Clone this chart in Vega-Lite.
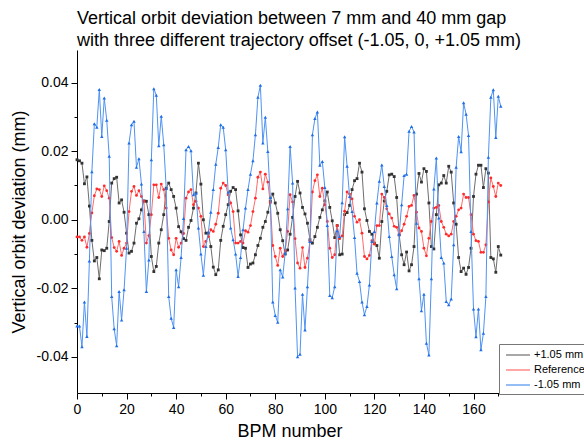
{
"$schema": "https://vega.github.io/schema/vega-lite/v6.json",
"width": 425, "height": 343,
"autosize": {"type": "none"},
"padding": {"left": 77, "top": 50, "right": 82, "bottom": 50},
"background": "white",
"title": {"text": ["Vertical orbit deviation between 7 mm and 40 mm gap", "with three different trajectory offset (-1.05, 0, +1.05 mm)"], "anchor": "start", "frame": "group", "font": "Liberation Sans", "fontSize": 18, "fontWeight": "normal", "lineHeight": 22, "offset": 0, "color": "black"},
"config": {"view": {"stroke": null}, "font": "Liberation Sans",
 "axis": {"grid": false, "domainColor": "black", "domainWidth": 1, "tickColor": "black", "tickWidth": 1, "labelColor": "black", "titleColor": "black", "labelFont": "Liberation Sans", "titleFont": "Liberation Sans", "labelFontSize": 14, "titleFontSize": 18, "titleFontWeight": "normal", "labelOverlap": false, "labelFlush": false},
 "legend": {"title": null, "orient": "none", "legendX": 422, "legendY": 294, "symbolType": "M-2,0L2,0", "symbolSize": 144, "symbolOffset": 8, "symbolStrokeWidth": 1.2, "labelFontSize": 11, "labelFont": "Liberation Sans", "labelColor": "black", "padding": 4, "strokeColor": "#777777", "fillColor": "white", "rowPadding": 3, "labelOffset": 9}},
"datasets": {
"pos": [
{"x":0,"y":0.0175,"s":"+1.05 mm"},{"x":1,"y":0.0172,"s":"+1.05 mm"},{"x":2,"y":0.0165,"s":"+1.05 mm"},{"x":3,"y":0.0105,"s":"+1.05 mm"},{"x":4,"y":0.0125,"s":"+1.05 mm"},{"x":5,"y":0.004,"s":"+1.05 mm"},{"x":6,"y":-0.006,"s":"+1.05 mm"},{"x":7,"y":-0.012,"s":"+1.05 mm"},{"x":8,"y":-0.011,"s":"+1.05 mm"},{"x":9,"y":-0.0172,"s":"+1.05 mm"},
{"x":10,"y":-0.0088,"s":"+1.05 mm"},{"x":11,"y":-0.009,"s":"+1.05 mm"},{"x":12,"y":-0.0083,"s":"+1.05 mm"},{"x":13,"y":-0.0005,"s":"+1.05 mm"},{"x":14,"y":0.0107,"s":"+1.05 mm"},{"x":15,"y":0.012,"s":"+1.05 mm"},{"x":16,"y":0.0124,"s":"+1.05 mm"},{"x":17,"y":0.0049,"s":"+1.05 mm"},{"x":18,"y":0.0058,"s":"+1.05 mm"},{"x":19,"y":0.0022,"s":"+1.05 mm"},
{"x":20,"y":-0.0039,"s":"+1.05 mm"},{"x":21,"y":-0.0097,"s":"+1.05 mm"},{"x":22,"y":-0.0092,"s":"+1.05 mm"},{"x":23,"y":-0.0068,"s":"+1.05 mm"},{"x":24,"y":-0.001,"s":"+1.05 mm"},{"x":25,"y":0.0003,"s":"+1.05 mm"},{"x":26,"y":0.0029,"s":"+1.05 mm"},{"x":27,"y":0.0055,"s":"+1.05 mm"},{"x":28,"y":0.0054,"s":"+1.05 mm"},{"x":29,"y":0.0015,"s":"+1.05 mm"},
{"x":30,"y":-0.0107,"s":"+1.05 mm"},{"x":31,"y":-0.0151,"s":"+1.05 mm"},{"x":32,"y":-0.0136,"s":"+1.05 mm"},{"x":33,"y":-0.0068,"s":"+1.05 mm"},{"x":34,"y":-0.0029,"s":"+1.05 mm"},{"x":35,"y":0.0015,"s":"+1.05 mm"},{"x":36,"y":0.0092,"s":"+1.05 mm"},{"x":37,"y":0.0107,"s":"+1.05 mm"},{"x":38,"y":0.0088,"s":"+1.05 mm"},{"x":39,"y":0.0068,"s":"+1.05 mm"},
{"x":40,"y":0.0034,"s":"+1.05 mm"},{"x":41,"y":-0.002,"s":"+1.05 mm"},{"x":42,"y":-0.0035,"s":"+1.05 mm"},{"x":43,"y":-0.0055,"s":"+1.05 mm"},{"x":44,"y":-0.006,"s":"+1.05 mm"},{"x":45,"y":-0.0022,"s":"+1.05 mm"},{"x":46,"y":-0.0002,"s":"+1.05 mm"},{"x":47,"y":0.0034,"s":"+1.05 mm"},{"x":48,"y":0.0078,"s":"+1.05 mm"},{"x":49,"y":0.0165,"s":"+1.05 mm"},
{"x":50,"y":0.0104,"s":"+1.05 mm"},{"x":51,"y":0.0,"s":"+1.05 mm"},{"x":52,"y":-0.0039,"s":"+1.05 mm"},{"x":53,"y":-0.0039,"s":"+1.05 mm"},{"x":54,"y":-0.0078,"s":"+1.05 mm"},{"x":55,"y":-0.0138,"s":"+1.05 mm"},{"x":56,"y":-0.016,"s":"+1.05 mm"},{"x":57,"y":-0.0146,"s":"+1.05 mm"},{"x":58,"y":-0.006,"s":"+1.05 mm"},{"x":59,"y":-0.0019,"s":"+1.05 mm"},
{"x":60,"y":0.0015,"s":"+1.05 mm"},{"x":61,"y":0.0044,"s":"+1.05 mm"},{"x":62,"y":0.0083,"s":"+1.05 mm"},{"x":63,"y":0.0094,"s":"+1.05 mm"},{"x":64,"y":0.0088,"s":"+1.05 mm"},{"x":65,"y":0.0026,"s":"+1.05 mm"},{"x":66,"y":-0.0044,"s":"+1.05 mm"},{"x":67,"y":-0.0081,"s":"+1.05 mm"},{"x":68,"y":-0.0083,"s":"+1.05 mm"},{"x":69,"y":-0.0139,"s":"+1.05 mm"},
{"x":70,"y":-0.0129,"s":"+1.05 mm"},{"x":71,"y":-0.0126,"s":"+1.05 mm"},{"x":72,"y":-0.0102,"s":"+1.05 mm"},{"x":73,"y":-0.0075,"s":"+1.05 mm"},{"x":74,"y":-0.0054,"s":"+1.05 mm"},{"x":75,"y":-0.0022,"s":"+1.05 mm"},{"x":76,"y":-0.0005,"s":"+1.05 mm"},{"x":77,"y":0.0022,"s":"+1.05 mm"},{"x":78,"y":0.0054,"s":"+1.05 mm"},{"x":79,"y":0.0075,"s":"+1.05 mm"},
{"x":80,"y":0.0049,"s":"+1.05 mm"},{"x":81,"y":0.0019,"s":"+1.05 mm"},{"x":82,"y":-0.0029,"s":"+1.05 mm"},{"x":83,"y":-0.0061,"s":"+1.05 mm"},{"x":84,"y":-0.01,"s":"+1.05 mm"},{"x":85,"y":-0.0088,"s":"+1.05 mm"},{"x":86,"y":-0.0042,"s":"+1.05 mm"},{"x":87,"y":0.0007,"s":"+1.05 mm"},{"x":88,"y":0.0068,"s":"+1.05 mm"},{"x":89,"y":0.0112,"s":"+1.05 mm"},
{"x":90,"y":0.0078,"s":"+1.05 mm"},{"x":91,"y":0.0036,"s":"+1.05 mm"},{"x":92,"y":0.0017,"s":"+1.05 mm"},{"x":93,"y":-0.001,"s":"+1.05 mm"},{"x":94,"y":-0.0058,"s":"+1.05 mm"},{"x":95,"y":-0.0068,"s":"+1.05 mm"},{"x":96,"y":-0.0049,"s":"+1.05 mm"},{"x":97,"y":-0.0022,"s":"+1.05 mm"},{"x":98,"y":0.0007,"s":"+1.05 mm"},{"x":99,"y":0.0029,"s":"+1.05 mm"},
{"x":100,"y":0.0055,"s":"+1.05 mm"},{"x":101,"y":0.0081,"s":"+1.05 mm"},{"x":102,"y":0.0036,"s":"+1.05 mm"},{"x":103,"y":-0.0003,"s":"+1.05 mm"},{"x":104,"y":-0.0052,"s":"+1.05 mm"},{"x":105,"y":-0.0017,"s":"+1.05 mm"},{"x":106,"y":-0.0102,"s":"+1.05 mm"},{"x":107,"y":-0.01,"s":"+1.05 mm"},{"x":108,"y":0.0015,"s":"+1.05 mm"},{"x":109,"y":0.0021,"s":"+1.05 mm"},
{"x":110,"y":0.0042,"s":"+1.05 mm"},{"x":111,"y":0.0088,"s":"+1.05 mm"},{"x":112,"y":0.0114,"s":"+1.05 mm"},{"x":113,"y":0.012,"s":"+1.05 mm"},{"x":114,"y":0.0165,"s":"+1.05 mm"},{"x":115,"y":0.0139,"s":"+1.05 mm"},{"x":116,"y":0.0032,"s":"+1.05 mm"},{"x":117,"y":-0.0002,"s":"+1.05 mm"},{"x":118,"y":-0.0034,"s":"+1.05 mm"},{"x":119,"y":-0.0042,"s":"+1.05 mm"},
{"x":120,"y":-0.0068,"s":"+1.05 mm"},{"x":121,"y":-0.0075,"s":"+1.05 mm"},{"x":122,"y":-0.0112,"s":"+1.05 mm"},{"x":123,"y":-0.0005,"s":"+1.05 mm"},{"x":124,"y":0.0055,"s":"+1.05 mm"},{"x":125,"y":0.0083,"s":"+1.05 mm"},{"x":126,"y":0.0131,"s":"+1.05 mm"},{"x":127,"y":0.0133,"s":"+1.05 mm"},{"x":128,"y":0.0126,"s":"+1.05 mm"},{"x":129,"y":0.0065,"s":"+1.05 mm"},
{"x":130,"y":-0.0044,"s":"+1.05 mm"},{"x":131,"y":-0.0102,"s":"+1.05 mm"},{"x":132,"y":-0.0131,"s":"+1.05 mm"},{"x":133,"y":-0.0094,"s":"+1.05 mm"},{"x":134,"y":-0.0149,"s":"+1.05 mm"},{"x":135,"y":-0.0131,"s":"+1.05 mm"},{"x":136,"y":-0.0078,"s":"+1.05 mm"},{"x":137,"y":0.0075,"s":"+1.05 mm"},{"x":138,"y":0.0135,"s":"+1.05 mm"},{"x":139,"y":0.011,"s":"+1.05 mm"},
{"x":140,"y":0.0149,"s":"+1.05 mm"},{"x":141,"y":0.0141,"s":"+1.05 mm"},{"x":142,"y":0.0049,"s":"+1.05 mm"},{"x":143,"y":-0.0078,"s":"+1.05 mm"},{"x":144,"y":-0.0085,"s":"+1.05 mm"},{"x":145,"y":0.0015,"s":"+1.05 mm"},{"x":146,"y":0.0102,"s":"+1.05 mm"},{"x":147,"y":0.0107,"s":"+1.05 mm"},{"x":148,"y":0.0129,"s":"+1.05 mm"},{"x":149,"y":0.0107,"s":"+1.05 mm"},
{"x":150,"y":0.0156,"s":"+1.05 mm"},{"x":151,"y":0.0139,"s":"+1.05 mm"},{"x":152,"y":0.0049,"s":"+1.05 mm"},{"x":153,"y":-0.0013,"s":"+1.05 mm"},{"x":154,"y":-0.011,"s":"+1.05 mm"},{"x":155,"y":-0.0151,"s":"+1.05 mm"},{"x":156,"y":-0.0141,"s":"+1.05 mm"},{"x":157,"y":-0.0159,"s":"+1.05 mm"},{"x":158,"y":-0.0139,"s":"+1.05 mm"},{"x":159,"y":-0.0083,"s":"+1.05 mm"},
{"x":160,"y":0.0068,"s":"+1.05 mm"},{"x":161,"y":0.0133,"s":"+1.05 mm"},{"x":162,"y":0.0159,"s":"+1.05 mm"},{"x":163,"y":0.0159,"s":"+1.05 mm"},{"x":164,"y":0.0094,"s":"+1.05 mm"},{"x":165,"y":0.0149,"s":"+1.05 mm"},{"x":166,"y":0.0136,"s":"+1.05 mm"},{"x":167,"y":-0.011,"s":"+1.05 mm"},{"x":168,"y":-0.0114,"s":"+1.05 mm"},{"x":169,"y":-0.0153,"s":"+1.05 mm"},
{"x":170,"y":-0.0078,"s":"+1.05 mm"},{"x":171,"y":-0.0103,"s":"+1.05 mm"}
],
"ref": [
{"x":0,"y":-0.005,"s":"Reference"},{"x":1,"y":-0.005,"s":"Reference"},{"x":2,"y":-0.006,"s":"Reference"},{"x":3,"y":-0.005,"s":"Reference"},{"x":4,"y":-0.008,"s":"Reference"},{"x":5,"y":-0.004,"s":"Reference"},{"x":6,"y":0.002,"s":"Reference"},{"x":7,"y":0.007,"s":"Reference"},{"x":8,"y":0.009,"s":"Reference"},{"x":9,"y":0.0088,"s":"Reference"},
{"x":10,"y":0.0068,"s":"Reference"},{"x":11,"y":0.0099,"s":"Reference"},{"x":12,"y":0.0085,"s":"Reference"},{"x":13,"y":0.0063,"s":"Reference"},{"x":14,"y":-0.0052,"s":"Reference"},{"x":15,"y":-0.0081,"s":"Reference"},{"x":16,"y":-0.0092,"s":"Reference"},{"x":17,"y":-0.0063,"s":"Reference"},{"x":18,"y":-0.0104,"s":"Reference"},{"x":19,"y":-0.0083,"s":"Reference"},
{"x":20,"y":-0.0068,"s":"Reference"},{"x":21,"y":0.0024,"s":"Reference"},{"x":22,"y":0.0083,"s":"Reference"},{"x":23,"y":0.0097,"s":"Reference"},{"x":24,"y":0.0071,"s":"Reference"},{"x":25,"y":0.0085,"s":"Reference"},{"x":26,"y":0.0068,"s":"Reference"},{"x":27,"y":0.0054,"s":"Reference"},{"x":28,"y":-0.0068,"s":"Reference"},{"x":29,"y":-0.0046,"s":"Reference"},
{"x":30,"y":0.0015,"s":"Reference"},{"x":31,"y":0.0102,"s":"Reference"},{"x":32,"y":0.0102,"s":"Reference"},{"x":33,"y":0.0065,"s":"Reference"},{"x":34,"y":0.0104,"s":"Reference"},{"x":35,"y":0.0088,"s":"Reference"},{"x":36,"y":0.0034,"s":"Reference"},{"x":37,"y":-0.0054,"s":"Reference"},{"x":38,"y":-0.0088,"s":"Reference"},{"x":39,"y":-0.0102,"s":"Reference"},
{"x":40,"y":-0.0054,"s":"Reference"},{"x":41,"y":-0.008,"s":"Reference"},{"x":42,"y":-0.0068,"s":"Reference"},{"x":43,"y":-0.004,"s":"Reference"},{"x":44,"y":0.0063,"s":"Reference"},{"x":45,"y":0.0081,"s":"Reference"},{"x":46,"y":0.0088,"s":"Reference"},{"x":47,"y":0.0044,"s":"Reference"},{"x":48,"y":0.0054,"s":"Reference"},{"x":49,"y":0.0034,"s":"Reference"},
{"x":50,"y":0.001,"s":"Reference"},{"x":51,"y":-0.0078,"s":"Reference"},{"x":52,"y":-0.0063,"s":"Reference"},{"x":53,"y":-0.0049,"s":"Reference"},{"x":54,"y":-0.0029,"s":"Reference"},{"x":55,"y":-0.0034,"s":"Reference"},{"x":56,"y":-0.0013,"s":"Reference"},{"x":57,"y":0.0019,"s":"Reference"},{"x":58,"y":0.0092,"s":"Reference"},{"x":59,"y":0.0107,"s":"Reference"},
{"x":60,"y":0.01,"s":"Reference"},{"x":61,"y":0.0073,"s":"Reference"},{"x":62,"y":0.0049,"s":"Reference"},{"x":63,"y":0.0024,"s":"Reference"},{"x":64,"y":-0.0068,"s":"Reference"},{"x":65,"y":-0.0068,"s":"Reference"},{"x":66,"y":-0.0063,"s":"Reference"},{"x":67,"y":-0.0068,"s":"Reference"},{"x":68,"y":-0.0032,"s":"Reference"},{"x":69,"y":-0.0036,"s":"Reference"},
{"x":70,"y":-0.0017,"s":"Reference"},{"x":71,"y":0.0024,"s":"Reference"},{"x":72,"y":0.0063,"s":"Reference"},{"x":73,"y":0.0124,"s":"Reference"},{"x":74,"y":0.0139,"s":"Reference"},{"x":75,"y":0.009,"s":"Reference"},{"x":76,"y":0.0133,"s":"Reference"},{"x":77,"y":0.011,"s":"Reference"},{"x":78,"y":0.0049,"s":"Reference"},{"x":79,"y":-0.0075,"s":"Reference"},
{"x":80,"y":-0.0107,"s":"Reference"},{"x":81,"y":-0.0133,"s":"Reference"},{"x":82,"y":-0.0083,"s":"Reference"},{"x":83,"y":-0.0107,"s":"Reference"},{"x":84,"y":-0.009,"s":"Reference"},{"x":85,"y":-0.0034,"s":"Reference"},{"x":86,"y":0.0073,"s":"Reference"},{"x":87,"y":0.0052,"s":"Reference"},{"x":88,"y":-0.0055,"s":"Reference"},{"x":89,"y":-0.0126,"s":"Reference"},
{"x":90,"y":-0.0141,"s":"Reference"},{"x":91,"y":-0.0081,"s":"Reference"},{"x":92,"y":-0.0139,"s":"Reference"},{"x":93,"y":-0.0112,"s":"Reference"},{"x":94,"y":-0.0063,"s":"Reference"},{"x":95,"y":0.0081,"s":"Reference"},{"x":96,"y":0.0114,"s":"Reference"},{"x":97,"y":0.0131,"s":"Reference"},{"x":98,"y":0.0068,"s":"Reference"},{"x":99,"y":0.0092,"s":"Reference"},
{"x":100,"y":0.0044,"s":"Reference"},{"x":101,"y":-0.0005,"s":"Reference"},{"x":102,"y":-0.0083,"s":"Reference"},{"x":103,"y":-0.011,"s":"Reference"},{"x":104,"y":-0.0102,"s":"Reference"},{"x":105,"y":-0.0017,"s":"Reference"},{"x":106,"y":-0.0055,"s":"Reference"},{"x":107,"y":-0.0047,"s":"Reference"},{"x":108,"y":0.0025,"s":"Reference"},{"x":109,"y":0.0081,"s":"Reference"},
{"x":110,"y":0.0075,"s":"Reference"},{"x":111,"y":0.0061,"s":"Reference"},{"x":112,"y":0.001,"s":"Reference"},{"x":113,"y":-0.0007,"s":"Reference"},{"x":114,"y":0.0,"s":"Reference"},{"x":115,"y":-0.0039,"s":"Reference"},{"x":116,"y":-0.0107,"s":"Reference"},{"x":117,"y":-0.0114,"s":"Reference"},{"x":118,"y":-0.0104,"s":"Reference"},{"x":119,"y":-0.0061,"s":"Reference"},
{"x":120,"y":-0.0071,"s":"Reference"},{"x":121,"y":-0.0017,"s":"Reference"},{"x":122,"y":-0.0017,"s":"Reference"},{"x":123,"y":0.0075,"s":"Reference"},{"x":124,"y":0.0065,"s":"Reference"},{"x":125,"y":0.0032,"s":"Reference"},{"x":126,"y":0.0017,"s":"Reference"},{"x":127,"y":0.0005,"s":"Reference"},{"x":128,"y":-0.0019,"s":"Reference"},{"x":129,"y":-0.0022,"s":"Reference"},
{"x":130,"y":-0.0044,"s":"Reference"},{"x":131,"y":-0.0032,"s":"Reference"},{"x":132,"y":-0.0013,"s":"Reference"},{"x":133,"y":0.001,"s":"Reference"},{"x":134,"y":0.0039,"s":"Reference"},{"x":135,"y":0.0042,"s":"Reference"},{"x":136,"y":0.0071,"s":"Reference"},{"x":137,"y":0.0022,"s":"Reference"},{"x":138,"y":-0.0024,"s":"Reference"},{"x":139,"y":-0.0034,"s":"Reference"},
{"x":140,"y":-0.0083,"s":"Reference"},{"x":141,"y":-0.0105,"s":"Reference"},{"x":142,"y":-0.0054,"s":"Reference"},{"x":143,"y":-0.0005,"s":"Reference"},{"x":144,"y":0.0034,"s":"Reference"},{"x":145,"y":0.0036,"s":"Reference"},{"x":146,"y":0.0042,"s":"Reference"},{"x":147,"y":-0.0005,"s":"Reference"},{"x":148,"y":-0.0022,"s":"Reference"},{"x":149,"y":-0.0042,"s":"Reference"},
{"x":150,"y":-0.0047,"s":"Reference"},{"x":151,"y":-0.0042,"s":"Reference"},{"x":152,"y":-0.0005,"s":"Reference"},{"x":153,"y":0.001,"s":"Reference"},{"x":154,"y":0.0029,"s":"Reference"},{"x":155,"y":0.0034,"s":"Reference"},{"x":156,"y":0.0075,"s":"Reference"},{"x":157,"y":0.0065,"s":"Reference"},{"x":158,"y":0.0065,"s":"Reference"},{"x":159,"y":0.0015,"s":"Reference"},
{"x":160,"y":-0.0042,"s":"Reference"},{"x":161,"y":-0.0061,"s":"Reference"},{"x":162,"y":-0.0063,"s":"Reference"},{"x":163,"y":-0.0095,"s":"Reference"},{"x":164,"y":-0.0095,"s":"Reference"},{"x":165,"y":-0.0073,"s":"Reference"},{"x":166,"y":0.0052,"s":"Reference"},{"x":167,"y":0.0122,"s":"Reference"},{"x":168,"y":0.0097,"s":"Reference"},{"x":169,"y":0.0068,"s":"Reference"},
{"x":170,"y":0.0107,"s":"Reference"},{"x":171,"y":0.01,"s":"Reference"}
],
"neg": [
{"x":0,"y":-0.031,"s":"-1.05 mm"},{"x":1,"y":-0.031,"s":"-1.05 mm"},{"x":2,"y":-0.037,"s":"-1.05 mm"},{"x":3,"y":-0.024,"s":"-1.05 mm"},{"x":4,"y":-0.034,"s":"-1.05 mm"},{"x":5,"y":-0.012,"s":"-1.05 mm"},{"x":6,"y":0.014,"s":"-1.05 mm"},{"x":7,"y":0.028,"s":"-1.05 mm"},{"x":8,"y":0.027,"s":"-1.05 mm"},{"x":9,"y":0.038,"s":"-1.05 mm"},
{"x":10,"y":0.0243,"s":"-1.05 mm"},{"x":11,"y":0.0355,"s":"-1.05 mm"},{"x":12,"y":0.029,"s":"-1.05 mm"},{"x":13,"y":0.0185,"s":"-1.05 mm"},{"x":14,"y":-0.0224,"s":"-1.05 mm"},{"x":15,"y":-0.0318,"s":"-1.05 mm"},{"x":16,"y":-0.0367,"s":"-1.05 mm"},{"x":17,"y":-0.0209,"s":"-1.05 mm"},{"x":18,"y":-0.0292,"s":"-1.05 mm"},{"x":19,"y":-0.0204,"s":"-1.05 mm"},
{"x":20,"y":-0.0083,"s":"-1.05 mm"},{"x":21,"y":0.0224,"s":"-1.05 mm"},{"x":22,"y":0.0277,"s":"-1.05 mm"},{"x":23,"y":0.0287,"s":"-1.05 mm"},{"x":24,"y":0.0153,"s":"-1.05 mm"},{"x":25,"y":0.0178,"s":"-1.05 mm"},{"x":26,"y":0.0104,"s":"-1.05 mm"},{"x":27,"y":-0.0034,"s":"-1.05 mm"},{"x":28,"y":-0.0209,"s":"-1.05 mm"},{"x":29,"y":-0.0117,"s":"-1.05 mm"},
{"x":30,"y":0.0175,"s":"-1.05 mm"},{"x":31,"y":0.0382,"s":"-1.05 mm"},{"x":32,"y":0.0363,"s":"-1.05 mm"},{"x":33,"y":0.0216,"s":"-1.05 mm"},{"x":34,"y":0.0302,"s":"-1.05 mm"},{"x":35,"y":0.0219,"s":"-1.05 mm"},{"x":36,"y":0.0092,"s":"-1.05 mm"},{"x":37,"y":-0.0224,"s":"-1.05 mm"},{"x":38,"y":-0.0287,"s":"-1.05 mm"},{"x":39,"y":-0.0314,"s":"-1.05 mm"},
{"x":40,"y":-0.0146,"s":"-1.05 mm"},{"x":41,"y":-0.0195,"s":"-1.05 mm"},{"x":42,"y":-0.011,"s":"-1.05 mm"},{"x":43,"y":0.0004,"s":"-1.05 mm"},{"x":44,"y":0.0204,"s":"-1.05 mm"},{"x":45,"y":0.0214,"s":"-1.05 mm"},{"x":46,"y":0.0201,"s":"-1.05 mm"},{"x":47,"y":0.0073,"s":"-1.05 mm"},{"x":48,"y":0.0078,"s":"-1.05 mm"},{"x":49,"y":-0.0024,"s":"-1.05 mm"},
{"x":50,"y":-0.01,"s":"-1.05 mm"},{"x":51,"y":-0.0162,"s":"-1.05 mm"},{"x":52,"y":-0.0078,"s":"-1.05 mm"},{"x":53,"y":-0.0036,"s":"-1.05 mm"},{"x":54,"y":0.0022,"s":"-1.05 mm"},{"x":55,"y":0.0088,"s":"-1.05 mm"},{"x":56,"y":0.0162,"s":"-1.05 mm"},{"x":57,"y":0.0211,"s":"-1.05 mm"},{"x":58,"y":0.0277,"s":"-1.05 mm"},{"x":59,"y":0.027,"s":"-1.05 mm"},
{"x":60,"y":0.0204,"s":"-1.05 mm"},{"x":61,"y":0.0081,"s":"-1.05 mm"},{"x":62,"y":-0.0024,"s":"-1.05 mm"},{"x":63,"y":-0.0058,"s":"-1.05 mm"},{"x":64,"y":-0.01,"s":"-1.05 mm"},{"x":65,"y":-0.0165,"s":"-1.05 mm"},{"x":66,"y":-0.011,"s":"-1.05 mm"},{"x":67,"y":-0.0029,"s":"-1.05 mm"},{"x":68,"y":0.0034,"s":"-1.05 mm"},{"x":69,"y":0.0088,"s":"-1.05 mm"},
{"x":70,"y":0.0133,"s":"-1.05 mm"},{"x":71,"y":0.0172,"s":"-1.05 mm"},{"x":72,"y":0.0248,"s":"-1.05 mm"},{"x":73,"y":0.0357,"s":"-1.05 mm"},{"x":74,"y":0.0392,"s":"-1.05 mm"},{"x":75,"y":0.0224,"s":"-1.05 mm"},{"x":76,"y":0.0299,"s":"-1.05 mm"},{"x":77,"y":0.0199,"s":"-1.05 mm"},{"x":78,"y":0.0065,"s":"-1.05 mm"},{"x":79,"y":-0.024,"s":"-1.05 mm"},
{"x":80,"y":-0.0279,"s":"-1.05 mm"},{"x":81,"y":-0.0299,"s":"-1.05 mm"},{"x":82,"y":-0.0146,"s":"-1.05 mm"},{"x":83,"y":-0.0167,"s":"-1.05 mm"},{"x":84,"y":-0.0097,"s":"-1.05 mm"},{"x":85,"y":0.0032,"s":"-1.05 mm"},{"x":86,"y":0.0214,"s":"-1.05 mm"},{"x":87,"y":0.0107,"s":"-1.05 mm"},{"x":88,"y":-0.0199,"s":"-1.05 mm"},{"x":89,"y":-0.0399,"s":"-1.05 mm"},
{"x":90,"y":-0.0392,"s":"-1.05 mm"},{"x":91,"y":-0.0217,"s":"-1.05 mm"},{"x":92,"y":-0.0321,"s":"-1.05 mm"},{"x":93,"y":-0.0195,"s":"-1.05 mm"},{"x":94,"y":-0.0063,"s":"-1.05 mm"},{"x":95,"y":0.0248,"s":"-1.05 mm"},{"x":96,"y":0.0295,"s":"-1.05 mm"},{"x":97,"y":0.0314,"s":"-1.05 mm"},{"x":98,"y":0.0159,"s":"-1.05 mm"},{"x":99,"y":0.017,"s":"-1.05 mm"},
{"x":100,"y":0.0094,"s":"-1.05 mm"},{"x":101,"y":-0.0017,"s":"-1.05 mm"},{"x":102,"y":-0.0221,"s":"-1.05 mm"},{"x":103,"y":-0.0227,"s":"-1.05 mm"},{"x":104,"y":-0.0195,"s":"-1.05 mm"},{"x":105,"y":-0.0032,"s":"-1.05 mm"},{"x":106,"y":-0.0049,"s":"-1.05 mm"},{"x":107,"y":0.005,"s":"-1.05 mm"},{"x":108,"y":0.0242,"s":"-1.05 mm"},{"x":109,"y":0.0156,"s":"-1.05 mm"},
{"x":110,"y":0.0068,"s":"-1.05 mm"},{"x":111,"y":0.0024,"s":"-1.05 mm"},{"x":112,"y":-0.0052,"s":"-1.05 mm"},{"x":113,"y":-0.0156,"s":"-1.05 mm"},{"x":114,"y":-0.018,"s":"-1.05 mm"},{"x":115,"y":-0.024,"s":"-1.05 mm"},{"x":116,"y":-0.0277,"s":"-1.05 mm"},{"x":117,"y":-0.0253,"s":"-1.05 mm"},{"x":118,"y":-0.019,"s":"-1.05 mm"},{"x":119,"y":-0.0063,"s":"-1.05 mm"},
{"x":120,"y":-0.0034,"s":"-1.05 mm"},{"x":121,"y":0.0049,"s":"-1.05 mm"},{"x":122,"y":0.0112,"s":"-1.05 mm"},{"x":123,"y":0.016,"s":"-1.05 mm"},{"x":124,"y":0.0097,"s":"-1.05 mm"},{"x":125,"y":0.0042,"s":"-1.05 mm"},{"x":126,"y":-0.0049,"s":"-1.05 mm"},{"x":127,"y":-0.0107,"s":"-1.05 mm"},{"x":128,"y":-0.016,"s":"-1.05 mm"},{"x":129,"y":-0.0201,"s":"-1.05 mm"},
{"x":130,"y":-0.0042,"s":"-1.05 mm"},{"x":131,"y":0.0044,"s":"-1.05 mm"},{"x":132,"y":0.0129,"s":"-1.05 mm"},{"x":133,"y":0.0133,"s":"-1.05 mm"},{"x":134,"y":0.0258,"s":"-1.05 mm"},{"x":135,"y":0.0272,"s":"-1.05 mm"},{"x":136,"y":0.0256,"s":"-1.05 mm"},{"x":137,"y":-0.001,"s":"-1.05 mm"},{"x":138,"y":-0.0172,"s":"-1.05 mm"},{"x":139,"y":-0.0265,"s":"-1.05 mm"},
{"x":140,"y":-0.0217,"s":"-1.05 mm"},{"x":141,"y":-0.036,"s":"-1.05 mm"},{"x":142,"y":-0.0394,"s":"-1.05 mm"},{"x":143,"y":-0.0172,"s":"-1.05 mm"},{"x":144,"y":0.009,"s":"-1.05 mm"},{"x":145,"y":0.018,"s":"-1.05 mm"},{"x":146,"y":0.0005,"s":"-1.05 mm"},{"x":147,"y":-0.011,"s":"-1.05 mm"},{"x":148,"y":-0.0126,"s":"-1.05 mm"},{"x":149,"y":-0.0238,"s":"-1.05 mm"},
{"x":150,"y":-0.0248,"s":"-1.05 mm"},{"x":151,"y":-0.0231,"s":"-1.05 mm"},{"x":152,"y":-0.0073,"s":"-1.05 mm"},{"x":153,"y":0.0153,"s":"-1.05 mm"},{"x":154,"y":0.0243,"s":"-1.05 mm"},{"x":155,"y":0.0198,"s":"-1.05 mm"},{"x":156,"y":0.0341,"s":"-1.05 mm"},{"x":157,"y":0.0308,"s":"-1.05 mm"},{"x":158,"y":0.0246,"s":"-1.05 mm"},{"x":159,"y":-0.0034,"s":"-1.05 mm"},
{"x":160,"y":-0.026,"s":"-1.05 mm"},{"x":161,"y":-0.0341,"s":"-1.05 mm"},{"x":162,"y":-0.026,"s":"-1.05 mm"},{"x":163,"y":-0.0379,"s":"-1.05 mm"},{"x":164,"y":-0.0331,"s":"-1.05 mm"},{"x":165,"y":-0.0224,"s":"-1.05 mm"},{"x":166,"y":0.0182,"s":"-1.05 mm"},{"x":167,"y":0.0357,"s":"-1.05 mm"},{"x":168,"y":0.0379,"s":"-1.05 mm"},{"x":169,"y":0.024,"s":"-1.05 mm"},
{"x":170,"y":0.036,"s":"-1.05 mm"},{"x":171,"y":0.0331,"s":"-1.05 mm"}
]
},
"encoding": {
 "x": {"field": "x", "type": "quantitative", "scale": {"domain": [0, 171.5], "nice": false, "zero": false},
  "axis": {"title": "BPM number", "values": [0,10,20,30,40,50,60,70,80,90,100,110,120,130,140,150,160,170],
   "labelExpr": "datum.value % 20 === 0 ? datum.label : ''",
   "tickSize": {"condition": {"test": "datum.value % 20 === 0", "value": 6}, "value": 3},
   "labelPadding": 3, "titlePadding": 6}},
 "y": {"field": "y", "type": "quantitative", "scale": {"domain": [-0.0505, 0.0495], "nice": false, "zero": false},
  "axis": {"title": "Vertical orbit deviation (mm)", "values": [-0.04,-0.03,-0.02,-0.01,0,0.01,0.02,0.03,0.04],
   "labelExpr": "abs(round(datum.value*100)) % 2 === 0 ? replace(format(datum.value, '.2f'), '\u2212', '-') : ''",
   "tickSize": {"condition": {"test": "abs(round(datum.value*100)) % 2 === 0", "value": 6}, "value": 3},
   "labelPadding": 3, "titlePadding": 8}}
},
"layer": [
 {"data": {"name": "pos"}, "mark": {"type": "line", "strokeWidth": 1},
  "encoding": {"color": {"field": "s", "type": "nominal", "scale": {"domain": ["+1.05 mm", "Reference", "-1.05 mm"], "range": ["#6e6e6e", "#ff6b6b", "#4f93f2"]}}}},
 {"data": {"name": "pos"}, "mark": {"type": "point", "shape": "square", "filled": true, "size": 8, "color": "#333333", "opacity": 1}},
 {"data": {"name": "ref"}, "mark": {"type": "line", "strokeWidth": 1},
  "encoding": {"color": {"field": "s", "type": "nominal", "scale": {"domain": ["+1.05 mm", "Reference", "-1.05 mm"], "range": ["#6e6e6e", "#ff6b6b", "#4f93f2"]}}}},
 {"data": {"name": "ref"}, "mark": {"type": "point", "shape": "circle", "filled": true, "size": 8, "color": "#ff2a2a", "opacity": 1}},
 {"data": {"name": "neg"}, "mark": {"type": "line", "strokeWidth": 1},
  "encoding": {"color": {"field": "s", "type": "nominal", "scale": {"domain": ["+1.05 mm", "Reference", "-1.05 mm"], "range": ["#6e6e6e", "#ff6b6b", "#4f93f2"]}}}},
 {"data": {"name": "neg"}, "mark": {"type": "point", "shape": "triangle-up", "filled": true, "size": 12, "color": "#1f6fe8", "opacity": 1}}
]
}
